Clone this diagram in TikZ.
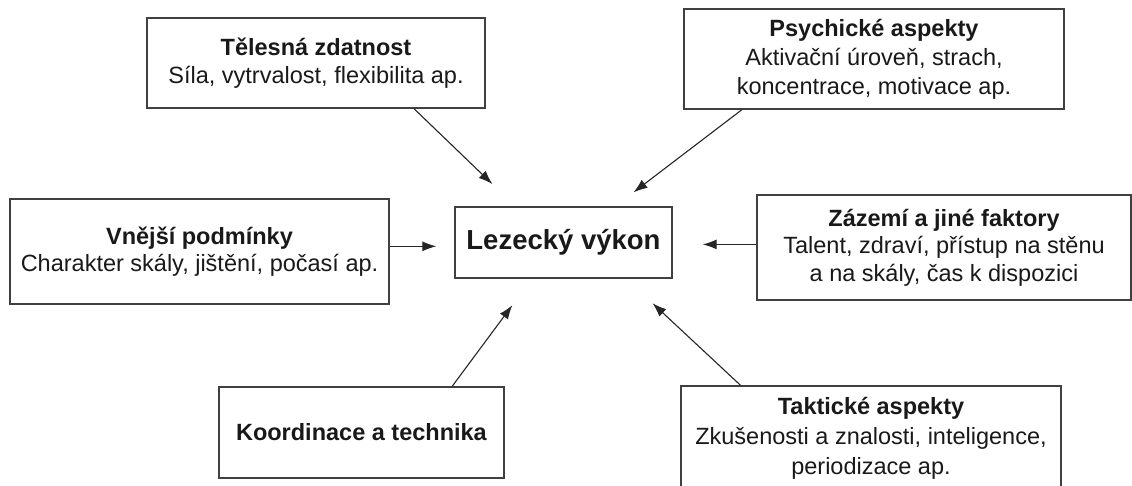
\documentclass[tikz,border=0pt]{standalone}
\usepackage{fontspec}
\setmainfont{Liberation Sans}
\usetikzlibrary{arrows.meta}

\begin{document}
\begin{tikzpicture}[x=1pt, y=-1pt,
    factor/.style={draw=black!75, line width=1.4pt, align=center, inner sep=2pt,
      font=\fontsize{23.5}{27.5}\selectfont, text=black!90},
    edge/.style={-{Latex[length=14pt,width=10pt]}, line width=1.1pt, draw=black!85}
  ]
  \useasboundingbox[fill=white] (0,0) rectangle (1132,486);

  % Central box
  \node[factor, font=\fontsize{27.5}{32}\selectfont\bfseries,
        minimum width=217pt, minimum height=71pt] (lez) at (563.5,242.5) {Lezecký výkon};

  % Factors around it
  \node[factor, minimum width=338pt, minimum height=90pt] (tel) at (316,63)
    {\textbf{Tělesná zdatnost}\\Síla, vytrvalost, flexibilita ap.};
  \node[factor, minimum width=380pt, minimum height=100pt,
        font=\fontsize{23.5}{29}\selectfont] (psy) at (874,59)
    {\textbf{Psychické aspekty}\\Aktivační úroveň, strach,\\koncentrace, motivace ap.};
  \node[factor, minimum width=379pt, minimum height=105pt] (vne) at (199.5,251.5)
    {\textbf{Vnější podmínky}\\Charakter skály, jištění, počasí ap.};
  \node[factor, minimum width=374pt, minimum height=105pt] (zaz) at (944,247.5)
    {\textbf{Zázemí a jiné faktory}\\Talent, zdraví, přístup na stěnu\\a na skály, čas k dispozici};
  \node[factor, minimum width=285pt, minimum height=91pt] (koo) at (361.5,432.5)
    {\textbf{Koordinace a technika}};
  \node[factor, minimum width=380pt, minimum height=104pt,
        font=\fontsize{23.5}{30}\selectfont] (tak) at (871,438)
    {\textbf{Taktické aspekty}\\Zkušenosti a znalosti, inteligence,\\periodizace ap.};

  % Arrows towards the performance
  \draw[edge, shorten >=32pt] (tel.-25) -- (lez.143);
  \draw[edge, shorten >=23pt] (psy.201) -- (lez.35);
  \draw[edge, shorten >=18pt] (vne.east |- lez.182) -- (lez.182);
  \draw[edge, shorten >=30pt] (zaz.west |- lez.-1) -- (lez.-1);
  \draw[edge, shorten >=33pt] (koo.27) -- (lez.229);
  \draw[edge, shorten >=36pt] (tak.158) -- (lez.-30);
\end{tikzpicture}
\end{document}
